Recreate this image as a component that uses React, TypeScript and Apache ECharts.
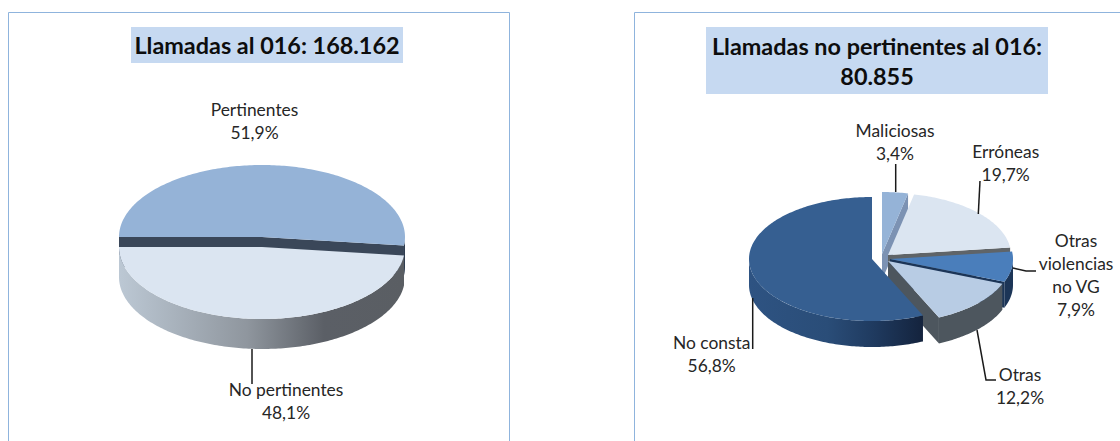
import React, { useEffect, useRef } from "react";
import * as echarts from "echarts";

const leftTitle = "Llamadas al 016: 168.162";
const rightTitle = "Llamadas no pertinentes al 016:\n80.855";

const leftCategories = ["Pertinentes", "No pertinentes"];
const leftValues = [51.9, 48.1];

const rightCategories = ["Maliciosas", "Erróneas", "Otras\nviolencias\nno VG", "Otras", "No consta"];
const rightValues = [3.4, 19.7, 7.9, 12.2, 56.8];

const FONT = "Lato";
const gradient = (a: string, b: string, c: string, d: string) => ({
  type: "linear", x: 0, y: 0, x2: 1, y2: 0,
  colorStops: [
    { offset: 0, color: a }, { offset: 0.45, color: b },
    { offset: 0.72, color: c }, { offset: 1, color: d },
  ],
});

const leftStyle = {
  firstAngle: 270, cx: 262, cy: 247, rx: 143, ry: 72, depth: 30,
  offsets: [[0, -10], [0, 0]],
  tops: ["#95b3d7", "#dbe5f1"],
  cuts: ["#3a4759", "#3a4759"],
  rims: ["#2f3d50", gradient("#bcc8d4", "#8f969e", "#5b5f66", "#5a5e63")],
  labels: [
    { x: 254.5, y: 120.5, leader: [] as number[][] },
    { x: 286, y: 400.5, leader: [[252, 349], [252, 384]] },
  ],
};

const rightStyle = {
  firstAngle: 0, cx: 872, cy: 259, rx: 123, ry: 62, depth: 26,
  offsets: [[10, -5], [16, -4], [18, 0], [16, 2], [0, 0]],
  tops: ["#95b3d7", "#dbe5f1", "#4a7ebb", "#b8cce4", "#365f91"],
  cuts: ["#7c92b3", "#5f6468", "#1c3557", "#4d565e", "#1c3557"],
  rims: ["#7c92b3", "#5f6468", "#1c3557", "#4d565e", gradient("#2e5382", "#2a4d78", "#1f3a5f", "#14233d")],
  labels: [
    { x: 895, y: 141.5, leader: [[895.7, 164], [895.7, 192]] },
    { x: 1005.7, y: 162.5, leader: [[980, 181], [978.3, 214]] },
    { x: 1076, y: 274.5, leader: [[1013, 268], [1026, 271], [1036, 271]] },
    { x: 1020, y: 385.5, leader: [[977, 330], [986, 380], [996, 380]] },
    { x: 711.7, y: 353.5, leader: [[752.7, 298], [752.7, 349]] },
  ],
};

function pieSeries(categories: string[], values: number[], st: typeof rightStyle) {
  const total = values.reduce((s, v) => s + v, 0);
  return {
    type: "custom",
    coordinateSystem: "none",
    silent: true,
    data: values,
    renderItem: (params: any, api: any) => {
      const i = params.dataIndex;
      const before = values.slice(0, i).reduce((s, v) => s + v, 0);
      const start = st.firstAngle + (before / total) * 360;
      const end = start + (api.value(0) / total) * 360;
      const cx = st.cx + st.offsets[i][0];
      const cy = st.cy + st.offsets[i][1];
      const pt = (deg: number, dy = 0) => {
        const a = (deg * Math.PI) / 180;
        return [cx + st.rx * Math.sin(a), cy - st.ry * Math.cos(a) + dy];
      };
      const arc = (a: number, b: number, dy = 0) => {
        const n = Math.max(2, Math.ceil(Math.abs(b - a)));
        const out: number[][] = [];
        for (let k = 0; k <= n; k++) out.push(pt(a + ((b - a) * k) / n, dy));
        return out;
      };
      const children: any[] = [];
      const poly = (points: number[][], fill: any) =>
        children.push({ type: "polygon", shape: { points }, style: { fill, stroke: "none" } });
      const cut = (deg: number) => {
        const p = pt(deg);
        poly([[cx, cy], p, [p[0], p[1] + st.depth], [cx, cy + st.depth]], st.cuts[i]);
      };
      if (Math.sin((start * Math.PI) / 180) < -1e-6) cut(start);
      if (Math.sin((end * Math.PI) / 180) > 1e-6) cut(end);
      for (const k of [0, 360]) {
        const lo = Math.max(start, 90 + k);
        const hi = Math.min(end, 270 + k);
        if (hi > lo) poly([...arc(lo, hi), ...arc(hi, lo, st.depth)], st.rims[i]);
      }
      poly([[cx, cy], ...arc(start, end)], st.tops[i]);
      const lab = st.labels[i];
      if (lab.leader.length) {
        children.push({
          type: "polyline",
          shape: { points: lab.leader },
          style: { stroke: "#1a1a1a", lineWidth: 1.5, fill: "none" },
        });
      }
      children.push({
        type: "text",
        x: lab.x,
        y: lab.y,
        style: {
          text: `${categories[i]}\n${api.value(0).toFixed(1).replace(".", ",")}%`,
          fontFamily: FONT,
          fontSize: 17.4,
          lineHeight: 23,
          fill: "#262626",
          align: "center",
          verticalAlign: "middle",
        },
      });
      return { type: "group", children };
    },
  };
}

const frameColor = "#8fb4dd";
const titleFill = "#c6d9f1";

function titleBlock(text: string, x: number, y: number, w: number, h: number) {
  return [
    { type: "rect", shape: { x, y, width: w, height: h }, style: { fill: titleFill } },
    {
      type: "text",
      x: x + w / 2,
      y: y + h / 2,
      style: {
        text,
        fontFamily: FONT,
        fontWeight: "bold",
        fontSize: 23.4,
        lineHeight: 30,
        fill: "#0d0d0d",
        align: "center",
        verticalAlign: "middle",
      },
    },
  ];
}

export default function App() {
  const ref = useRef<HTMLDivElement>(null);
  useEffect(() => {
    const chart = echarts.init(ref.current!, undefined, { renderer: "svg" });
    chart.setOption({
      animation: false,
      backgroundColor: "#ffffff",
      graphic: [
        {
          type: "polyline",
          shape: { points: [[8.5, 441], [8.5, 12.5], [509.5, 12.5], [509.5, 441]] },
          style: { stroke: frameColor, lineWidth: 1, fill: "none" },
        },
        {
          type: "polyline",
          shape: { points: [[634.5, 441], [634.5, 12.5], [1120, 12.5]] },
          style: { stroke: frameColor, lineWidth: 1, fill: "none" },
        },
        ...titleBlock(leftTitle, 131, 27, 272, 36),
        ...titleBlock(rightTitle, 706, 27, 342, 67),
      ],
      series: [
        pieSeries(leftCategories, leftValues, leftStyle as any),
        pieSeries(rightCategories, rightValues, rightStyle),
      ],
    });
    return () => chart.dispose();
  }, []);
  return <div ref={ref} style={{ position: "absolute", left: 0, top: 0, width: 1120, height: 441 }} />;
}
